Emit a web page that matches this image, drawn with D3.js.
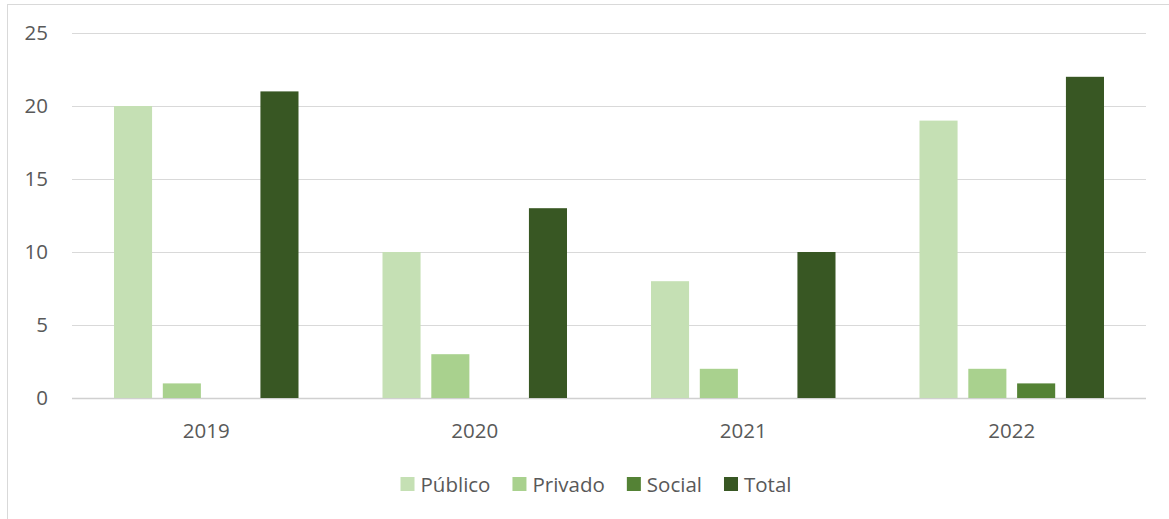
<!DOCTYPE html>
<meta charset="utf-8">
<style>
  body { margin: 0; background: #fff; }
  text { font-family: "Open Sans", "Noto Sans", sans-serif; fill: #595959; }
</style>
<body>
<script src="https://cdn.jsdelivr.net/npm/d3@7"></script>
<script>
// data
var years = ["2019", "2020", "2021", "2022"];
var series = ["Público", "Privado", "Social", "Total"];
var publico = [20, 10, 8, 19];
var privado = [1, 3, 2, 2];
var social = [0, 0, 0, 1];
var total = [21, 13, 10, 22];
var colors = ["#c5e0b4", "#a9d18e", "#548235", "#385723"];
var yTicks = [0, 5, 10, 15, 20, 25];

var values = [publico, privado, social, total];

var W = 1169, H = 519;
var plot = {left: 72, right: 1146, top: 33, bottom: 398};
var fs = "20.5px";

var svg = d3.select("body").append("svg")
    .attr("width", W)
    .attr("height", H);

// chart border
svg.append("rect")
    .attr("x", 7.5).attr("y", 4.5)
    .attr("width", W + 20).attr("height", H + 20)
    .attr("fill", "none")
    .attr("stroke", "#d9d9d9");

var x0 = d3.scaleBand().domain(years).range([plot.left, plot.right]);
var x1 = d3.scaleBand().domain(series)
    .range([42, x0.bandwidth() - 42])
    .paddingInner(0.22);
var y = d3.scaleLinear().domain([0, 25]).range([plot.bottom, plot.top]);

// gridlines
svg.append("g").selectAll("line")
  .data(yTicks)
  .enter().append("line")
    .attr("x1", plot.left).attr("x2", plot.right)
    .attr("y1", function(d) { return Math.round(y(d)) + 0.5; })
    .attr("y2", function(d) { return Math.round(y(d)) + 0.5; })
    .attr("stroke", function(d) { return d == 0 ? "#d0d0d0" : "#d9d9d9"; })
    .attr("stroke-width", function(d) { return d == 0 ? 1.5 : 1; });

// y labels
svg.append("g").selectAll("text")
  .data(yTicks)
  .enter().append("text")
    .attr("x", 48)
    .attr("y", function(d) { return y(d); })
    .attr("dy", "0.35em")
    .attr("text-anchor", "end")
    .style("font-size", fs)
    .text(function(d) { return d; });

// bars
var groups = svg.append("g").selectAll("g")
  .data(years)
  .enter().append("g")
    .attr("transform", function(d) { return "translate(" + x0(d) + ",0)"; });

groups.selectAll("rect")
  .data(function(d, i) { return series.map(function(s, j) { return {s: s, j: j, v: values[j][i]}; }); })
  .enter().append("rect")
    .filter(function(d) { return d.v > 0; })
    .attr("x", function(d) { return x1(d.s); })
    .attr("width", x1.bandwidth())
    .attr("y", function(d) { return y(d.v); })
    .attr("height", function(d) { return y(0) - y(d.v); })
    .attr("fill", function(d) { return colors[d.j]; });

// x labels
svg.append("g").selectAll("text")
  .data(years)
  .enter().append("text")
    .attr("x", function(d) { return x0(d) + x0.bandwidth() / 2; })
    .attr("y", 438)
    .attr("text-anchor", "middle")
    .style("font-size", fs)
    .text(function(d) { return d; });

// legend
var legend = svg.append("g");
var lx = 0;
series.forEach(function(s, i) {
  var g = legend.append("g").attr("transform", "translate(" + lx + ",0)");
  g.append("rect")
    .attr("x", 0).attr("y", 477)
    .attr("width", 14).attr("height", 14)
    .attr("fill", colors[i]);
  var t = g.append("text")
    .attr("x", 20).attr("y", 492)
    .style("font-size", fs)
    .text(s);
  lx += 20 + t.node().getComputedTextLength() + 22;
});
var legW = lx - 22;
legend.attr("transform", "translate(" + (596 - legW / 2) + ",0)");
</script>
</body>
